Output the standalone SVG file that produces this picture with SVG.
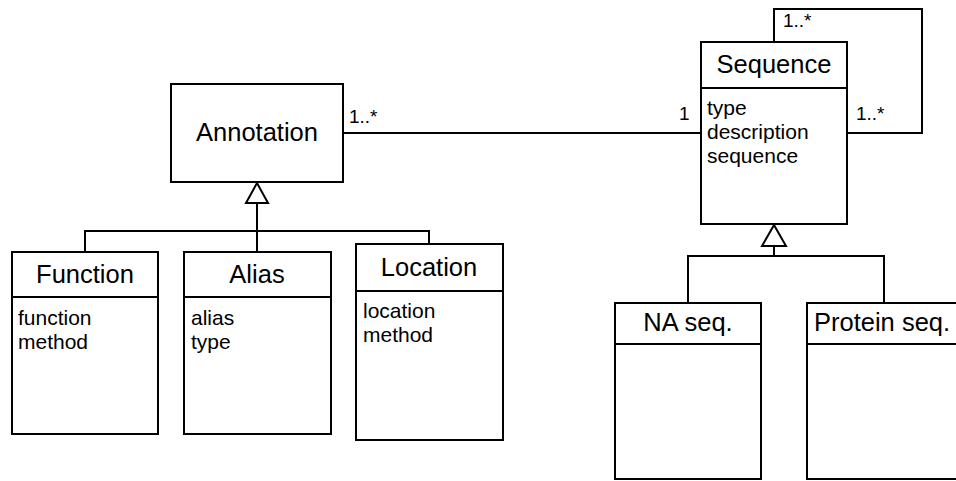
<svg xmlns="http://www.w3.org/2000/svg" width="956" height="481" viewBox="0 0 956 481">
<style>
rect.box{fill:#fff;stroke:#000;stroke-width:2}
line,path.c{stroke:#000;stroke-width:2;fill:none}
.tri{fill:#fff;stroke:#000;stroke-width:2}
text{font-family:"Liberation Sans",Arial,sans-serif;fill:#000}
.t{font-size:25.5px;text-anchor:middle}
.a{font-size:21px}
.m{font-size:19px}
</style>
<rect width="956" height="481" fill="#fff"/>
<g id="connectors">
<line x1="343" y1="133" x2="701" y2="133"/>
<path class="c" d="M774 42 V9 H922 V133 H847"/>
<line x1="257" y1="203" x2="257" y2="231"/>
<path class="c" d="M85 252 V231 H429 V244"/>
<line x1="257" y1="231" x2="257" y2="252"/>
<polygon class="tri" points="257,183 246,203 268,203"/>
<line x1="774" y1="246" x2="774" y2="256"/>
<path class="c" d="M688 303 V256 H884 V303"/>
<polygon class="tri" points="774,225 762,246 786,246"/>
<text class="m" x="349" y="123">1..*</text>
<text class="m" x="679" y="120">1</text>
<text class="m" x="783" y="27">1..*</text>
<text class="m" x="856" y="120">1..*</text>
</g>
<g id="annotation">
<rect class="box" x="171" y="84" width="172" height="98"/>
<text class="t" x="257" y="141">Annotation</text>
</g>
<g id="sequence">
<rect class="box" x="701" y="42" width="146" height="182"/>
<line x1="701" y1="88" x2="847" y2="88"/>
<text class="t" x="774" y="73">Sequence</text>
<text class="a" x="707" y="115">type</text>
<text class="a" x="707" y="139">description</text>
<text class="a" x="707" y="163">sequence</text>
</g>
<g id="function">
<rect class="box" x="12" y="252" width="146" height="182"/>
<line x1="12" y1="297" x2="158" y2="297"/>
<text class="t" x="85" y="283">Function</text>
<text class="a" x="18" y="325">function</text>
<text class="a" x="18" y="349">method</text>
</g>
<g id="alias">
<rect class="box" x="184" y="252" width="147" height="182"/>
<line x1="184" y1="297" x2="331" y2="297"/>
<text class="t" x="257" y="283">Alias</text>
<text class="a" x="191" y="325">alias</text>
<text class="a" x="191" y="349">type</text>
</g>
<g id="location">
<rect class="box" x="356" y="244" width="147" height="196"/>
<line x1="356" y1="291" x2="503" y2="291"/>
<text class="t" x="429" y="276">Location</text>
<text class="a" x="363" y="318">location</text>
<text class="a" x="363" y="342">method</text>
</g>
<g id="na-seq">
<rect class="box" x="615" y="303" width="146" height="176"/>
<line x1="615" y1="344" x2="761" y2="344"/>
<text class="t" x="688" y="331">NA seq.</text>
</g>
<g id="protein-seq">
<rect class="box" x="807" y="303" width="160" height="176"/>
<line x1="807" y1="344" x2="967" y2="344"/>
<text class="t" x="814" y="331" style="text-anchor:start">Protein seq.</text>
</g>
</svg>
